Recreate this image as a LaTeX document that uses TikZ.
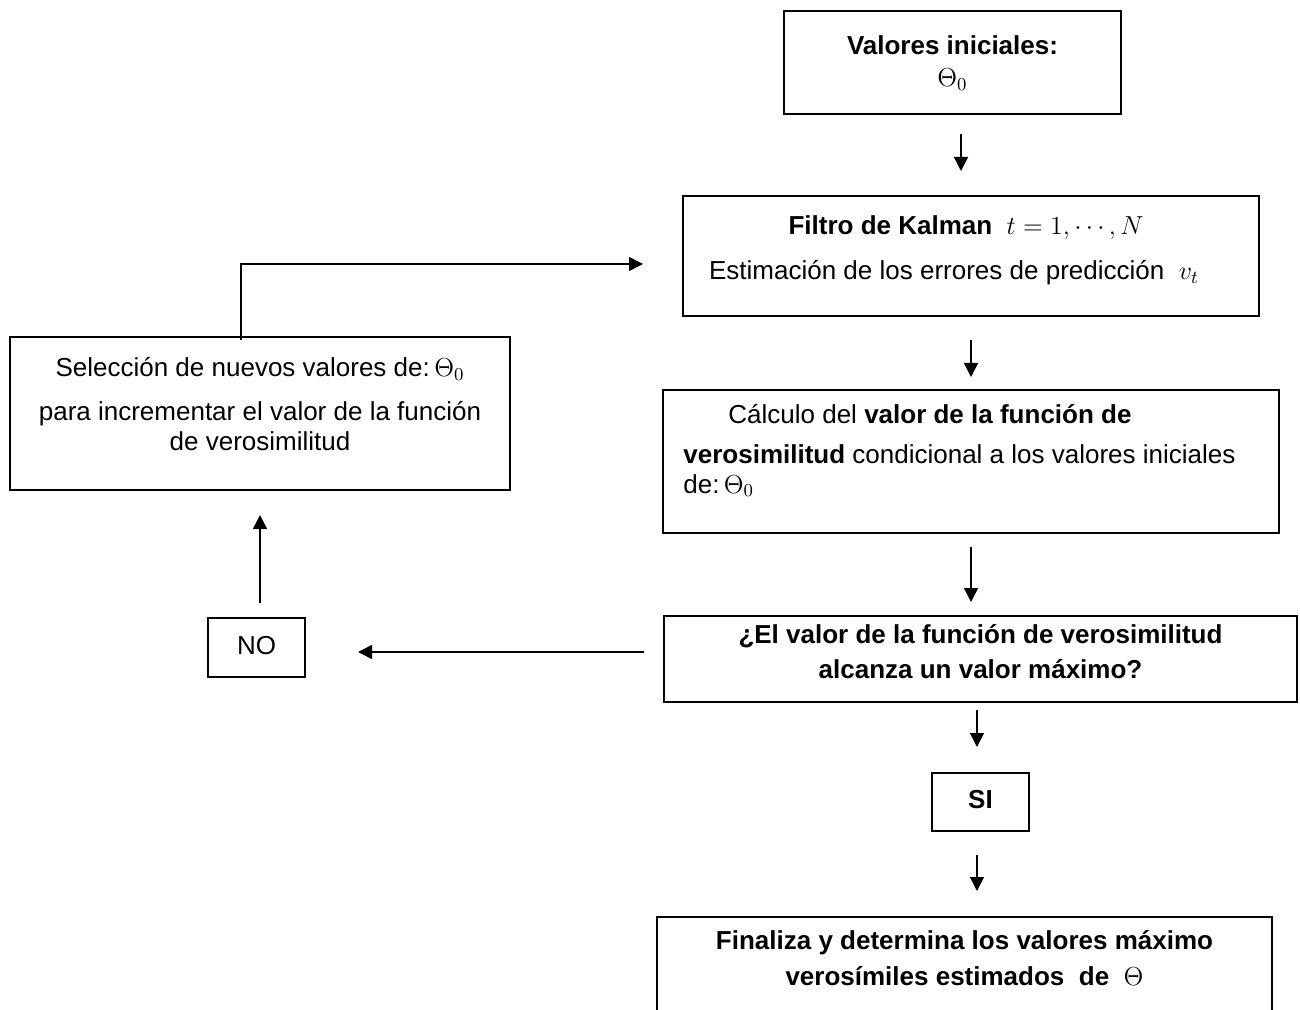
\documentclass[tikz,border=0pt]{standalone}
\usepackage{fix-cm}
\usepackage{fontspec}
\setmainfont{Liberation Sans}
\usetikzlibrary{arrows.meta}
\tikzset{
  caja/.style={draw, line width=1pt, anchor=north west, inner sep=0pt},
  flecha/.style={line width=0.75pt, -{Triangle[length=7pt,width=7pt]}},
  linea/.style={font=\fontsize{13}{15.6}\selectfont, inner sep=0pt, anchor=base},
}
\begin{document}
\begin{tikzpicture}[x=0.5pt, y=-0.5pt]
\useasboundingbox (0,0) rectangle (1300,1010);
\clip (0,0) rectangle (1300,1010);
\node[caja, minimum width=168.5pt, minimum height=51.5pt] (ini) at (783,10) {};
\node[linea] (ini1) at ([yshift=-22.5pt]ini.north) {\bfseries Valores iniciales:};
\node[linea] (ini2) at ([yshift=-38.5pt]ini.north) {$\Theta_0$};
\node[caja, minimum width=288pt, minimum height=60pt] (kal) at (682,195) {};
\node[linea] (kal1) at ([xshift=-2.5pt,yshift=-20pt]kal.north) {\bfseries Filtro de Kalman\ \ \mdseries$t=1,\cdots,N$};
\node[linea] (kal2) at ([xshift=-8.5pt,yshift=-42.5pt]kal.north) {Estimación de los errores de predicción\ \ $v_t$};
\node[caja, minimum width=308pt, minimum height=71.5pt] (cal) at (662,389) {};
\node[linea, anchor=base west] (cal1) at ([xshift=33pt,yshift=-17pt]cal.north west) {Cálculo del \textbf{valor de la función de}};
\node[linea, anchor=base west] (cal2) at ([xshift=10.5pt,yshift=-37pt]cal.north west) {\textbf{verosimilitud} condicional a los valores iniciales};
\node[linea, anchor=base west] (cal3) at ([xshift=10.5pt,yshift=-52pt]cal.north west) {de:\,$\Theta_0$};
\node[caja, minimum width=316.5pt, minimum height=43pt] (pre) at (663,615) {};
\node[linea] (pre1) at ([yshift=-14pt]pre.north) {\bfseries ¿El valor de la función de verosimilitud};
\node[linea] (pre2) at ([yshift=-31.5pt]pre.north) {\bfseries alcanza un valor máximo?};
\node[caja, minimum width=48.5pt, minimum height=29pt] (si) at (931,772) {};
\node[linea] (si1) at ([yshift=-18pt]si.north) {\bfseries SI};
\node[caja, minimum width=307.5pt, minimum height=62pt] (fin) at (656,916) {};
\node[linea] (fin1) at ([yshift=-16.5pt]fin.north) {\bfseries Finaliza y determina los valores máximo};
\node[linea] (fin2) at ([yshift=-34.5pt]fin.north) {\bfseries verosímiles estimados\ \ de\ \ \mdseries$\Theta$};
\node[caja, minimum width=250pt, minimum height=76.5pt] (sel) at (9,336) {};
\node[linea] (sel1) at ([yshift=-20.5pt]sel.north) {Selección de nuevos valores de:\,$\Theta_0$};
\node[linea] (sel2) at ([yshift=-42pt]sel.north) {para incrementar el valor de la función};
\node[linea] (sel3) at ([yshift=-57pt]sel.north) {de verosimilitud};
\node[caja, minimum width=48.5pt, minimum height=29.5pt] (no) at (207,617) {};
\node[linea] (no1) at ([yshift=-18.5pt]no.north) {NO};
\draw[flecha] ([xshift=4.25pt,yshift=-9.5pt]ini.south) -- ([xshift=-5pt,yshift=12pt]kal.north);
\draw[flecha] ([yshift=-11.5pt]kal.south) -- ([yshift=6pt]cal.north);
\draw[flecha] ([yshift=-6.5pt]cal.south) -- ([xshift=-4.75pt,yshift=6.5pt]pre.north);
\draw[flecha] ([xshift=-1.75pt,yshift=-3.5pt]pre.south) -- ([xshift=-1.75pt,yshift=12.5pt]si.north);
\draw[flecha] ([xshift=-1.75pt,yshift=-11.5pt]si.south) -- ([xshift=6.25pt,yshift=12.5pt]fin.north);
\draw[flecha] ([xshift=-9.5pt,yshift=3.5pt]pre.west) -- ([xshift=26pt,yshift=-2.25pt]no.east);
\draw[flecha] ([xshift=1.75pt,yshift=7pt]no.north) -- ([yshift=-12pt]sel.south);
\draw[flecha] ([xshift=-9.5pt,yshift=-2pt]sel.north) |- ([xshift=-19.5pt,yshift=-4pt]kal.west);
\end{tikzpicture}
\end{document}
